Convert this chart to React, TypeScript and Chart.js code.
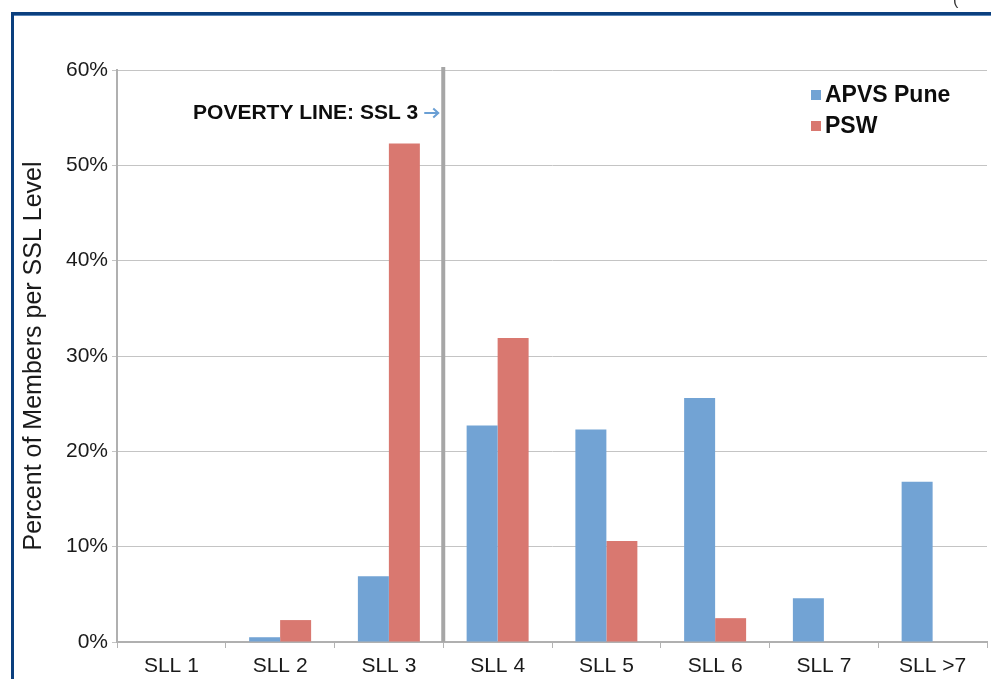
import React, { useEffect, useRef } from "react";
import { Chart, registerables } from "chart.js";

Chart.register(...registerables);

// Member distribution by self-sufficiency level
const categories = ["SLL 1", "SLL 2", "SLL 3", "SLL 4", "SLL 5", "SLL 6", "SLL 7", "SLL >7"];
const apvsPune = [0, 0.5, 6.9, 22.7, 22.3, 25.6, 4.6, 16.8];
const psw = [0, 2.3, 52.3, 31.9, 10.6, 2.5, 0, 0];
const seriesNames = ["APVS Pune", "PSW"];
const seriesColors = ["#72a3d4", "#d97870"];
const yMin = 0;
const yMax = 60;
const yStep = 10;
const povertyLabel = "POVERTY LINE: SSL 3";
const povertyAfterIndex = 2; // line sits between SLL 3 and SLL 4

const FONT = "'Liberation Sans', Arial, Helvetica, sans-serif";

const overlayPlugin = {
  id: "povertyOverlay",
  afterDraw(chart: any) {
    const { ctx, chartArea, scales } = chart;
    const x = scales.x;
    const sepX =
      (x.getPixelForValue(povertyAfterIndex) + x.getPixelForValue(povertyAfterIndex + 1)) / 2;
    ctx.save();

    // separator line
    ctx.strokeStyle = "#a6a6a6";
    ctx.lineWidth = 4;
    ctx.beginPath();
    ctx.moveTo(sepX, chartArea.top - 3);
    ctx.lineTo(sepX, chartArea.bottom);
    ctx.stroke();

    // poverty line label
    ctx.fillStyle = "#0d0d0d";
    ctx.font = `bold 21px ${FONT}`;
    ctx.textAlign = "right";
    ctx.textBaseline = "alphabetic";
    ctx.fillText(povertyLabel, sepX - 25, chartArea.top + 49);

    // arrow
    const ay = chartArea.top + 43;
    ctx.strokeStyle = "#6a9fd4";
    ctx.lineWidth = 2;
    ctx.beginPath();
    ctx.moveTo(sepX - 19, ay);
    ctx.lineTo(sepX - 5, ay);
    ctx.stroke();
    ctx.beginPath();
    ctx.moveTo(sepX - 10, ay - 4.5);
    ctx.lineTo(sepX - 5, ay);
    ctx.lineTo(sepX - 10, ay + 4.5);
    ctx.stroke();

    // legend
    const lx = chartArea.right - 176;
    chart.data.datasets.forEach((ds: any, i: number) => {
      const top = chartArea.top + 20 + i * 31;
      ctx.fillStyle = ds.backgroundColor;
      ctx.fillRect(lx, top, 10, 10);
      ctx.fillStyle = "#0d0d0d";
      ctx.font = `bold 23px ${FONT}`;
      ctx.textAlign = "left";
      ctx.fillText(ds.label, lx + 14, top + 12);
    });
    ctx.restore();
  },
};

export default function App() {
  const canvasRef = useRef<HTMLCanvasElement | null>(null);

  useEffect(() => {
    const canvas = canvasRef.current;
    if (!canvas) return;
    const chart = new Chart(canvas, {
      type: "bar",
      data: {
        labels: categories,
        datasets: [
          { label: seriesNames[0], data: apvsPune, backgroundColor: seriesColors[0] },
          { label: seriesNames[1], data: psw, backgroundColor: seriesColors[1] },
        ],
      },
      options: {
        responsive: false,
        animation: false,
        devicePixelRatio: 1,
        layout: { padding: { left: 0, top: 70, right: 4, bottom: 0 } },
        datasets: { bar: { categoryPercentage: 0.57, barPercentage: 1.0 } },
        plugins: { legend: { display: false }, tooltip: { enabled: false } },
        scales: {
          x: {
            grid: {
              offset: true,
              drawOnChartArea: false,
              drawTicks: true,
              tickLength: 6,
              color: "#b3b3b3",
            },
            border: { color: "#b0b0b0", width: 2 },
            ticks: {
              color: "#1a1a1a",
              font: { family: FONT, size: 21 },
              padding: 6,
              maxRotation: 0,
            },
            afterFit(scale: any) {
              scale.height = 37;
            },
          },
          y: {
            min: yMin,
            max: yMax,
            grid: { color: "#c4c4c4", lineWidth: 1, tickLength: 5 },
            border: { color: "#b0b0b0", width: 2 },
            ticks: {
              stepSize: yStep,
              color: "#1a1a1a",
              font: { family: FONT, size: 21 },
              padding: 4,
              callback: (v: any) => `${v}%`,
            },
            title: {
              display: true,
              text: "Percent of Members per SSL Level",
              color: "#1a1a1a",
              font: { family: FONT, size: 25 },
              padding: { top: 19, bottom: 0 },
            },
            afterFit(scale: any) {
              scale.width = 117;
            },
          },
        },
      },
      plugins: [overlayPlugin],
    } as any);
    return () => chart.destroy();
  }, []);

  return (
    <div
      style={{
        position: "fixed",
        left: 0,
        top: 0,
        width: 991,
        height: 679,
        background: "#ffffff",
        overflow: "hidden",
      }}
    >
      <canvas ref={canvasRef} width={991} height={679} style={{ position: "absolute", left: 0, top: 0, width: 991, height: 679 }} />
      <div
        style={{
          position: "absolute",
          left: 11,
          top: 12,
          width: 1000,
          height: 700,
          borderLeft: "3px solid #0b3f7e",
          borderTop: "3px solid #0b3f7e",
          boxShadow: "inset 0 1px 0 #5a85b8",
          pointerEvents: "none",
        }}
      />
      <div
        style={{
          position: "absolute",
          left: 953,
          top: -9,
          fontFamily: FONT,
          fontSize: 16,
          color: "#333",
        }}
      >
        (
      </div>
    </div>
  );
}
